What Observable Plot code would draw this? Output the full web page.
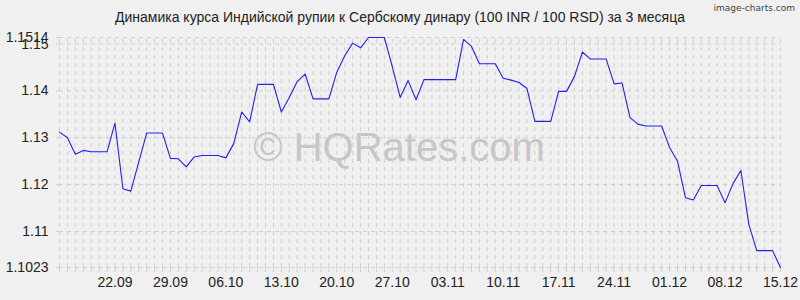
<!DOCTYPE html>
<html>
<head>
<meta charset="utf-8">
<script src="https://cdn.jsdelivr.net/npm/d3@7"></script>
<script src="https://cdn.jsdelivr.net/npm/@observablehq/plot@0.6"></script>
<style>
  html, body { margin: 0; padding: 0; background: #f0f0f0; }
  #wrap { position: relative; width: 800px; height: 300px; background: #f0f0f0; overflow: hidden; }
  #title { position: absolute; left: 0; width: 800px; top: 9px; text-align: center;
           font: 14px "Liberation Sans", Arial, sans-serif; color: #222; line-height: 16px; }
  #brand { position: absolute; right: 5px; top: 3px; font: 9px "DejaVu Sans", sans-serif; color: #444; }
  #chart { position: absolute; left: 0; top: 0; }
</style>
</head>
<body>
<div id="wrap">
  <div id="chart"></div>
  <div id="title">Динамика курса Индийской рупии к Сербскому динару (100 INR / 100 RSD) за 3 месяца</div>
  <div id="brand">image-charts.com</div>
</div>
<script>
const startDate = "2025-09-15";
const values = [
  1.1312,1.1300,1.1265,1.1273,1.1270,1.1270,1.1270,1.1331,1.1191,1.1186,
  1.1248,1.1310,1.1310,1.1310,1.1256,1.1255,1.1238,1.1259,1.1262,1.1262,
  1.1262,1.1257,1.1288,1.1355,1.1334,1.1414,1.1414,1.1414,1.1355,1.1386,
  1.1420,1.1436,1.1383,1.1383,1.1383,1.1440,1.1475,1.1502,1.1492,1.1514,
  1.1514,1.1514,1.1452,1.1386,1.1422,1.1381,1.1424,1.1424,1.1424,1.1424,
  1.1424,1.1510,1.1495,1.1458,1.1458,1.1458,1.1427,1.1423,1.1418,1.1405,
  1.1335,1.1335,1.1335,1.1399,1.1399,1.1431,1.1483,1.1468,1.1468,1.1468,
  1.1415,1.1417,1.1343,1.1329,1.1325,1.1325,1.1325,1.1279,1.1250,1.1172,
  1.1167,1.1198,1.1198,1.1198,1.1161,1.1202,1.1230,1.1115,1.1059,1.1059,
  1.1059,1.1023
];
const yTicks = [1.1023, 1.11, 1.12, 1.13, 1.14, 1.15, 1.1514];
const yLabels = ["1.1023", "1.11", "1.12", "1.13", "1.14", "1.15", "1.1514"];
const xLabels = ["22.09","29.09","06.10","13.10","20.10","27.10","03.11","10.11","17.11","24.11","01.12","08.12","15.12"];
const watermark = "© HQRates.com";

const start = new Date(startDate + "T00:00:00Z");
const data = values.map((v, i) => ({date: d3.utcDay.offset(start, i), value: v}));
const days = data.map(d => d.date);
const labelDates = xLabels.map(s => {
  const [dd, mm] = s.split(".");
  return new Date(Date.UTC(2025, +mm - 1, +dd));
});
const yMin = yTicks[0], yMax = yTicks[yTicks.length - 1];
const gridColor = "#cfcfcf";

const chart = Plot.plot({
  width: 800,
  height: 300,
  marginLeft: 59,
  marginRight: 20,
  marginTop: 37,
  marginBottom: 33,
  style: {background: "#f0f0f0", fontFamily: "'Liberation Sans', Arial, sans-serif", fontSize: "14px", color: "#222"},
  x: {type: "utc", domain: [days[0], days[days.length - 1]], label: null},
  y: {domain: [yMin, yMax], label: null},
  marks: [
    Plot.text([watermark], {frameAnchor: "middle", dx: -21, dy: -4, fontSize: 40, fill: "#c6c6c6", fontFamily: "'Liberation Sans', Arial, sans-serif"}),
    Plot.ruleX(days, {x: d => d, y1: yMin, y2: yMax, stroke: gridColor, strokeDasharray: "4,4"}),
    Plot.ruleY(yTicks, {y: d => d, stroke: gridColor, strokeDasharray: "4,4"}),
    Plot.axisX({ticks: days, tickSize: 5, tickFormat: () => "", stroke: gridColor, label: null}),
    Plot.axisX({ticks: labelDates, tickSize: 0, tickPadding: 10, tickFormat: d => xLabels[labelDates.findIndex(t => +t === +d)], fill: "#222", fontSize: 14, label: null}),
    Plot.axisY({ticks: yTicks, tickSize: 3, tickPadding: 8, stroke: gridColor, tickFormat: d => yLabels[yTicks.indexOf(d)], fill: "#222", fontSize: 14, label: null}),
    Plot.line(data, {x: "date", y: "value", stroke: "#2020f5", strokeWidth: 1.1})
  ]
});
document.getElementById("chart").appendChild(chart);
</script>
</body>
</html>
